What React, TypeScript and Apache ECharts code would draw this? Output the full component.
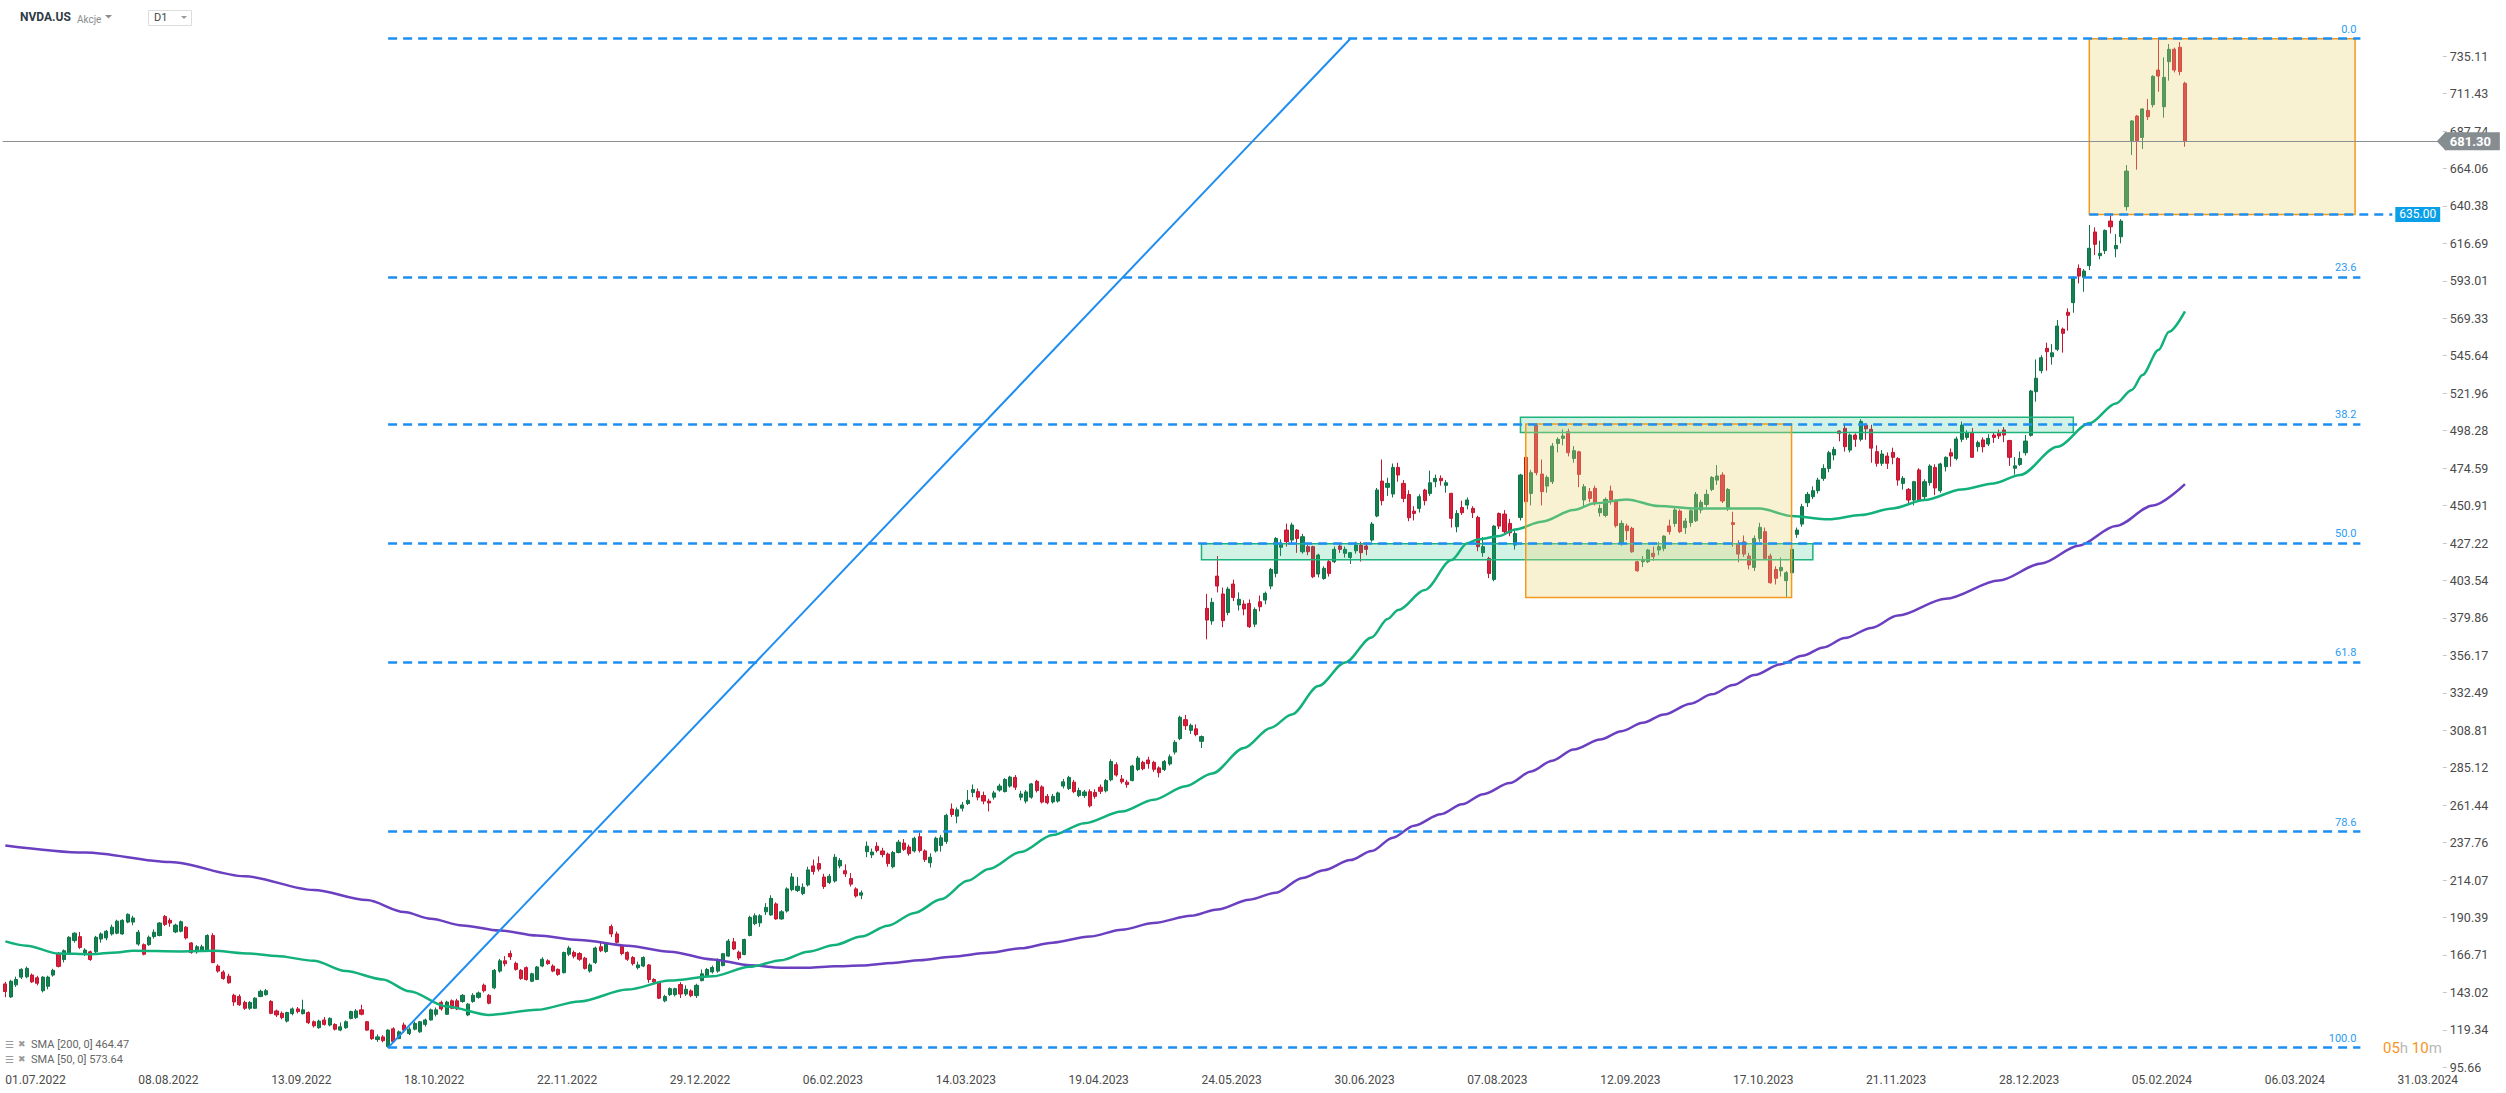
import React, { useEffect, useRef } from "react";
import * as echarts from "echarts";

// ---------- DATA ----------
const usHolidays = [
  "2022-07-04", "2022-09-05", "2022-11-24", "2022-12-26",
  "2023-01-02", "2023-01-16", "2023-02-20", "2023-04-07", "2023-05-29", "2023-06-19",
  "2023-07-04", "2023-09-04", "2023-11-23", "2023-12-25",
  "2024-01-01", "2024-01-15", "2024-02-19",
];
const futureDays = 48;

const xTickLabels = [
  "01.07.2022", "08.08.2022", "13.09.2022", "18.10.2022", "22.11.2022", "29.12.2022",
  "06.02.2023", "14.03.2023", "19.04.2023", "24.05.2023", "30.06.2023", "07.08.2023",
  "12.09.2023", "17.10.2023", "21.11.2023", "28.12.2023", "05.02.2024", "06.03.2024", "31.03.2024",
];

const yTickValues = [
  95.66, 119.34, 143.02, 166.71, 190.39, 214.07, 237.76, 261.44, 285.12, 308.81, 332.49,
  356.17, 379.86, 403.54, 427.22, 450.91, 474.59, 498.28, 521.96, 545.64, 569.33, 593.01,
  616.69, 640.38, 664.06, 687.74, 711.43, 735.11,
];

// [open, close, low, high]
const ohlc2022 = [
  [148.4,143.6,140.0,149.7],[140.2,150.1,139.5,151.0],[147.8,151.2,146.5,153.0],[152.7,157.6,151.5,158.3],
  [152.9,158.2,152.0,159.4],[154.0,149.7,149.0,155.0],[152.3,148.8,147.5,153.5],[144.1,152.7,143.0,153.3],
  [146.9,152.7,145.0,153.6],[154.0,157.0,153.0,158.0],[167.6,159.5,158.8,168.6],[163.8,169.4,162.0,170.2],
  [167.9,177.9,167.0,178.6],[175.8,180.5,174.5,181.0],[178.3,171.5,170.5,181.2],[167.2,169.8,166.0,171.0],
  [168.7,163.8,163.0,169.5],[168.7,177.9,167.5,178.8],[176.8,180.0,174.5,181.0],[177.5,181.7,176.0,182.5],
  [180.0,184.3,179.0,185.9],[180.5,188.1,179.8,189.0],[180.0,188.6,179.5,189.3],[187.5,192.4,186.8,193.0],
  [187.5,190.1,185.5,191.5],[173.6,181.1,172.5,182.5],[173.2,167.2,166.5,174.0],[173.2,177.9,172.5,179.0],
  [178.3,181.1,177.0,182.9],[179.0,186.9,178.5,187.5],[191.1,186.0,185.0,192.0],[188.6,186.9,184.5,190.0],
  [181.3,185.6,180.5,186.5],[181.7,187.7,181.0,188.5],[184.3,177.5,176.5,185.0],[174.3,168.3,167.5,174.8],
  [168.7,171.9,167.5,173.0],[169.4,171.9,168.5,173.2],[169.4,179.0,168.8,179.8],[179.0,161.9,161.5,180.5],
  [159.7,156.5,155.5,160.8],[155.9,151.8,151.0,157.0],[153.3,149.1,148.5,154.8],
  [141.2,137.0,134.5,142.2],[140.5,135.2,134.5,141.8],[136.7,133.0,132.0,137.8],[133.0,136.7,132.0,137.5],
  [133.0,139.4,132.5,140.0],[140.5,143.7,140.0,144.8],[141.6,144.1,141.0,145.2],[137.3,129.8,129.2,138.2],
  [131.3,128.8,127.5,132.2],[129.8,127.1,126.0,131.0],[124.9,130.3,124.0,130.8],[129.6,132.6,128.5,133.5],
  [132.6,130.9,129.8,133.8],[129.6,132.0,129.0,138.4],[130.3,123.9,123.0,131.0],[124.5,121.9,120.8,125.3],
  [120.7,124.9,120.0,125.8],[125.6,122.8,122.0,127.5],[122.4,126.6,121.5,127.3],[122.8,119.8,118.9,123.5],
  [119.2,121.3,118.5,124.0],
  [120.7,124.5,120.0,125.3],[126.6,130.9,126.0,131.5],[127.1,131.3,126.3,132.5],[132.0,129.2,128.5,135.2],
  [124.5,119.2,118.7,125.0],[119.2,113.8,113.0,119.6],[113.2,114.9,111.8,116.5],[114.9,112.5,111.5,116.0],
  [108.8,119.2,108.13,119.7],[120.0,112.0,111.5,121.0],[113.8,118.1,113.5,119.0],[122.4,119.2,117.5,124.0],
  [117.0,119.8,116.0,121.0],[119.8,123.4,119.0,124.6],[118.1,124.5,117.5,125.0],[122.8,125.6,121.5,126.5],
  [125.6,132.0,125.2,132.8],[129.2,132.0,127.8,133.5],[136.7,132.6,131.5,137.8],[129.2,136.9,128.8,137.8],
  [137.7,133.0,132.5,138.6],
  [137.7,132.6,131.8,139.0],[137.3,141.2,136.5,142.0],[128.8,135.6,128.0,136.4],[137.3,141.2,136.5,142.5],
  [139.9,142.7,139.0,143.6],[147.6,144.1,143.0,148.6],[141.2,136.2,135.5,142.0],[145.9,157.0,145.0,157.8],
  [156.5,163.0,155.5,164.2],[163.0,161.2,159.5,166.0],[167.6,165.5,163.5,169.5],[161.4,157.6,156.8,162.5],
  [157.0,151.8,151.0,157.8],[158.7,151.2,150.5,159.5],[150.1,154.8,149.5,155.5],[151.2,159.1,150.8,159.8],
  [159.7,164.0,159.0,165.3],[163.0,161.2,160.5,164.0],[159.7,156.5,155.8,160.8],[157.6,154.4,153.5,158.2],
  [155.5,168.3,155.0,168.8],
  [167.2,171.1,166.0,172.5],[168.3,165.9,164.5,169.5],[167.6,164.0,163.0,168.5],[164.7,158.2,157.5,165.5],
  [156.5,160.4,155.5,161.5],[161.9,171.1,161.0,172.0],[171.9,169.4,168.5,174.8],[168.9,174.1,168.0,174.8],
  [184.7,180.0,178.0,186.0],[180.0,174.7,174.0,181.5],[172.6,167.6,166.5,173.5],[168.3,164.0,163.0,169.0],
  [165.1,161.2,160.0,166.0],[158.7,160.4,157.5,162.5],[159.7,165.1,159.0,165.8],[160.4,151.2,149.1,161.0],
  [151.2,149.7,148.5,152.0],[149.1,139.4,138.8,149.5],[137.7,140.5,136.8,141.5],[141.6,145.4,140.8,146.2],
  [141.6,145.4,140.5,146.0],
];

const ohlc2023a = [
  [148.0,142.0,139.5,149.5],[142.0,145.0,140.8,147.5],[144.0,141.0,140.0,145.0],[141.0,147.5,139.5,148.5],
  [150.5,154.8,150.0,157.5],[153.5,157.5,152.5,158.5],[156.0,158.8,155.0,160.0],[156.5,163.8,155.5,164.5],
  [160.0,167.5,159.5,168.0],[166.0,175.5,165.5,176.8],[175.0,170.5,169.8,177.5],[168.5,164.8,163.5,169.5],
  [167.0,176.5,166.5,177.0],[179.0,190.5,178.5,191.5],[186.5,191.5,185.5,193.0],[187.0,191.5,184.5,192.5],
  [194.0,196.8,192.0,199.5],[192.0,202.5,191.5,204.5],[199.0,189.5,189.0,200.0],[189.5,194.0,189.0,195.0],
  [194.5,208.5,193.5,209.5],[208.0,216.0,207.0,218.5],[207.5,210.2,206.5,216.0],[205.5,209.5,204.5,212.0],
  [211.0,220.5,210.0,222.5],[223.0,219.5,217.5,227.0],[224.5,221.0,219.5,229.0],[216.0,210.0,208.5,218.0],
  [212.5,216.5,211.5,218.0],[213.5,228.5,212.5,230.5],[223.0,226.5,221.5,228.0],[220.0,218.0,216.0,224.0],
  [215.0,211.5,210.0,218.5],[208.5,204.0,203.0,209.5],[204.5,206.0,202.0,207.5],[232.0,235.5,228.5,238.5],
  [230.0,231.8,228.0,234.0],[235.5,232.8,231.5,238.0],[232.5,230.2,228.5,234.5],
  [230.5,224.5,222.5,231.5],[222.5,231.5,221.5,232.5],[231.5,238.0,231.0,239.5],[237.5,233.5,232.5,240.0],
  [235.0,230.8,229.5,236.5],[232.5,240.5,231.5,241.5],[241.5,232.8,231.5,244.0],[232.5,227.0,225.5,233.5],
  [225.0,228.5,222.0,231.0],[232.5,240.5,231.5,241.5],[236.0,240.8,232.0,242.5],[238.5,255.0,237.0,256.0],
  [259.0,255.5,254.0,262.5],[254.5,258.5,250.0,260.0],[259.5,261.5,257.5,263.5],[262.5,264.5,261.5,271.0],
  [269.5,271.3,266.5,274.5],[270.0,266.5,264.5,272.0],[267.5,264.0,262.0,270.0],[264.0,262.8,257.5,265.5],
  [266.5,269.2,265.0,270.5],[271.0,273.5,270.0,275.0],[270.0,277.7,269.5,278.5],
  [273.5,279.2,272.5,280.0],[279.0,272.8,271.0,280.5],[266.5,268.5,264.5,270.5],[264.0,269.8,262.5,271.0],
  [266.5,274.9,265.5,275.5],[276.5,270.7,269.5,277.5],[273.0,263.4,262.5,274.0],[267.0,263.0,262.0,268.5],
  [263.5,267.0,262.5,268.5],[264.0,269.2,263.0,270.0],[273.5,276.2,272.0,278.0],[272.0,279.0,271.0,280.0],
  [276.0,270.0,269.0,277.5],[267.5,270.7,266.5,272.5],[267.5,269.8,266.0,271.0],[270.0,261.0,260.0,271.5],
  [269.5,267.0,265.5,271.5],[272.8,270.2,268.5,274.5],[270.5,277.0,269.5,278.0],
  [277.5,289.0,276.5,290.5],[287.0,280.5,279.5,288.5],[278.0,276.2,275.0,280.5],[276.0,274.5,272.5,277.5],
  [277.0,286.2,276.5,287.0],[284.0,291.2,283.0,292.5],[288.5,284.5,283.5,289.5],[290.0,287.7,284.5,292.0],
  [288.5,284.1,282.5,289.5],[285.0,282.0,279.0,286.0],[284.0,289.0,283.0,290.0],[287.5,292.0,286.5,293.5],
  [295.0,301.2,293.5,302.5],[303.5,317.0,302.5,318.0],[315.5,311.7,309.0,318.5],[308.8,311.9,306.5,313.0],
  [309.7,306.1,305.0,312.5],[301.8,304.8,297.6,305.5],
];

const ohlc2023b = [
  [385.9,378.5,366.3,395.0],[377.9,389.7,375.5,392.5],[406.3,400.0,396.0,419.0],[395.0,378.1,374.0,399.0],
  [383.3,398.1,381.5,399.5],[401.3,392.8,390.5,404.0],[388.0,391.6,384.5,396.0],[388.6,385.5,381.5,391.0],
  [389.0,374.3,373.5,391.5],[375.9,385.2,374.0,386.5],[390.1,386.9,384.0,394.0],[391.1,395.4,388.5,396.5],
  [400.0,410.5,398.0,411.5],[408.0,430.1,405.5,431.0],[424.5,427.0,419.0,429.5],[435.4,428.0,425.0,439.5],
  [429.1,438.6,426.5,440.0],[435.4,430.1,421.0,436.0],[421.7,431.2,420.5,433.0],[424.9,421.7,419.5,426.0],
  [424.9,405.9,405.0,425.5],[407.6,419.6,405.5,420.5],[404.8,411.2,404.0,412.5],[415.4,408.0,406.0,416.5],
  [415.4,423.2,414.5,425.0],
  [425.3,423.2,421.0,426.5],[420.7,423.2,418.0,425.0],[418.1,421.1,414.0,421.5],[422.3,425.9,420.5,428.0],
  [425.9,421.1,415.5,428.0],[425.3,423.2,419.5,427.5],[429.1,439.2,428.0,440.5],[444.3,460.7,443.5,462.0],
  [466.4,454.0,451.0,480.0],[462.4,464.9,457.0,468.5],[458.2,475.0,456.0,477.5],[475.0,470.2,466.0,478.0],
  [464.9,455.4,453.0,467.0],[457.9,443.2,441.0,460.5],[447.4,445.9,441.5,450.5],[449.1,456.5,446.5,458.0],
  [460.7,454.0,451.0,461.5],[458.6,465.3,457.0,473.0],[466.0,468.1,462.5,470.5],[468.1,466.6,463.5,470.0],
  [463.7,465.3,459.0,467.0],[458.6,442.8,437.0,459.0],[437.5,445.9,434.0,448.0],[449.7,446.4,445.0,454.0],
  [451.2,454.4,448.5,456.0],[449.1,446.4,443.0,450.5],[443.4,424.9,422.0,444.5],[421.1,424.9,418.5,431.0],
  [417.5,408.0,405.0,418.5],[404.2,437.9,403.0,438.5],[445.9,437.9,436.0,446.5],[445.5,434.4,433.0,448.0],
  [439.6,433.7,431.5,442.5],[425.9,433.3,423.0,436.0],[443.4,470.2,441.5,471.0],[481.4,453.3,450.5,481.8],
  [458.6,471.7,451.0,473.5],[501.8,471.7,470.0,502.7],[470.8,459.7,451.0,480.0],[463.2,468.7,459.0,470.0],
  [466.0,488.5,464.5,490.5],[490.2,492.8,484.5,494.0],[493.4,494.9,489.0,499.0],
  [497.6,484.3,482.0,499.5],[480.7,485.6,478.0,488.5],[484.9,470.6,462.5,485.5],[454.4,462.8,450.0,464.5],
  [459.7,455.4,453.0,462.0],[461.8,452.7,451.0,463.5],[446.4,449.1,444.0,451.5],[444.7,454.8,443.5,456.0],
  [460.1,454.4,451.5,463.5],[453.8,438.2,437.0,455.0],[427.0,439.6,425.5,441.5],[438.0,435.0,429.0,439.5],
  [436.5,421.7,421.0,437.5],[415.4,409.7,409.0,416.0],[415.4,416.9,412.0,419.0],[415.4,422.8,414.5,423.5],
  [420.7,418.6,416.0,425.0],[422.8,424.9,419.5,428.0],[423.8,431.6,422.0,432.0],[438.0,434.4,432.5,442.0],
  [439.6,448.1,437.5,450.0],[447.4,434.4,433.5,448.5],[436.9,441.1,433.0,443.0],[440.1,447.6,437.5,448.5],
  [441.3,458.0,440.5,459.5],[448.1,452.9,446.0,454.5],[451.6,458.0,450.0,461.0],[461.1,468.7,460.0,469.5],
  [467.0,469.6,464.0,476.5],[470.2,453.8,452.5,472.0],[449.1,461.1,447.5,462.0],[440.1,439.0,424.9,447.0],
  [427.0,420.2,415.0,429.0],[428.0,420.2,418.5,432.0],[419.0,413.3,410.5,421.0],[411.8,430.1,409.5,432.0],
  [430.1,437.1,428.0,440.0],[434.4,417.5,416.5,437.0],[419.0,402.1,401.5,420.5],[410.5,404.9,401.0,412.5],
  [409.7,411.8,406.0,418.0],[403.4,408.4,392.8,409.5],
  [408.4,423.2,405.5,424.0],[432.7,435.4,430.5,437.0],[439.2,450.2,437.5,452.0],[452.7,458.0,450.0,459.5],
  [456.5,460.3,455.0,463.0],[460.3,467.0,458.5,468.5],[468.1,474.4,466.5,477.0],[474.4,484.3,472.0,485.5],
  [482.9,486.4,479.5,488.0],[498.0,496.6,491.5,498.5],[499.7,488.1,485.0,502.0],[486.0,495.5,484.5,496.5],
  [495.5,492.8,488.0,496.5],[492.8,504.1,491.5,505.5],[501.8,499.4,492.5,503.0],[499.1,487.2,478.0,502.0],
  [485.0,477.6,475.5,489.0],[477.6,483.5,476.0,486.0],[482.2,477.6,474.0,484.5],[484.5,481.4,477.0,487.5],
  [480.7,467.0,463.5,481.5],
  [464.9,468.1,461.0,469.5],[461.1,454.4,451.5,462.0],[454.4,466.0,451.0,466.5],[473.4,454.4,453.5,474.5],
  [456.5,466.0,455.0,467.5],[465.4,475.9,463.5,477.0],[475.0,462.0,457.5,477.0],[460.3,477.2,459.0,478.0],
  [475.5,481.4,472.5,482.0],[484.3,482.2,475.5,487.0],[480.7,493.0,479.5,494.5],[492.8,501.8,491.0,504.0],
  [494.0,497.0,492.5,498.5],[497.0,481.4,481.0,500.0],[488.1,490.7,485.0,492.0],[492.4,488.1,484.5,494.0],
  [489.8,493.4,488.5,496.0],[495.5,494.0,490.5,497.0],[497.0,494.9,493.0,499.0],[498.7,495.5,491.0,500.5],
];

const ohlc2024 = [
  [492.0,481.4,476.0,492.5],[474.5,476.0,470.5,481.5],[476.9,480.7,476.0,485.0],[484.3,491.7,482.5,495.5],
  [495.3,523.3,494.5,524.0],[522.9,531.4,516.6,543.3],[536.2,544.4,534.5,546.0],[550.3,548.2,536.2,553.9],
  [545.0,547.5,540.0,553.0],[549.7,564.4,548.5,568.2],[562.5,559.8,547.6,563.5],[573.1,571.2,561.5,575.6],
  [579.2,595.0,572.8,596.0],[600.9,596.0,591.4,603.4],[595.2,599.2,586.1,600.5],[602.6,613.6,599.8,628.3],
  [623.9,616.1,609.3,626.8],[608.9,610.4,606.6,618.4],[612.1,624.9,610.0,625.5],[630.8,627.2,623.0,635.7],
  [613.3,615.4,607.9,622.6],
  [620.9,630.8,616.7,632.0],[639.9,662.4,637.4,666.2],[681.6,694.1,672.6,694.7],[697.2,681.6,663.3,697.9],
  [683.7,701.7,676.4,702.2],[700.8,696.8,694.7,708.0],[704.4,722.3,702.7,723.0],[726.3,722.5,712.6,746.11],
  [703.1,721.7,696.2,734.3],[731.6,739.4,719.6,742.8],[739.4,726.3,724.8,740.5],[740.7,725.3,723.0,744.0],
  [717.9,681.3,677.8,718.9],
];

// SMA readings [bar index, value]
const sma200Points = [
  [0,236.0],[15,231.5],[31,225.5],[45,216.5],[58,207.8],[68,201.4],[75,193.9],[80,189.6],[86,185.4],
  [93,182.2],[100,179.0],[108,176.2],[117,172.6],[125,168.8],[133,163.9],[140,160.2],[146,158.7],
  [151,158.7],[156,159.6],[161,160.0],[167,161.7],[172,163.4],[178,165.6],[185,168.1],[191,170.9],
  [197,174.5],[204,178.4],[210,182.7],[216,186.9],[223,191.5],[228,195.5],[234,201.7],[239,206.1],
  [244,215.4],[248,220.3],[253,226.7],[257,232.4],[261,240.9],[265,248.5],[270,255.7],[274,262.0],
  [278,268.4],[283,275.4],[287,282.8],[291,289.6],[295,296.6],[300,302.9],[304,308.2],[308,313.5],
  [312,318.8],[317,325.6],[321,331.5],[325,337.4],[329,343.8],[334,350.6],[338,355.9],[342,361.2],
  [346,367.1],[351,373.5],[356,381.3],[365,392.0],[375,403.5],[383,414.3],[390,425.5],[397,438.0],
  [404,451.0],[410,464.47],
];
const sma50Points = [
  [0,175.3],[4,172.6],[10,167.6],[16,167.2],[21,168.3],[24,169.4],[33,168.9],[39,169.4],[46,167.6],
  [51,166.1],[58,163.0],[64,156.5],[71,151.2],[76,143.7],[83,134.1],[91,128.8],[100,132.0],[108,137.3],
  [117,144.8],[125,150.5],[133,153.2],[140,159.2],[146,163.4],[151,168.8],[156,173.0],[161,178.4],
  [166,185.2],[171,193.3],[176,201.9],[181,213.6],[185,221.1],[191,231.8],[197,242.5],[203,250.0],
  [210,257.4],[216,264.9],[222,273.4],[227,281.5],[233,297.6],[238,310.3],[242,318.8],[247,336.8],
  [252,351.6],[257,367.5],[260,379.2],[262,384.8],[267,397.5],[272,416.4],[275,427.0],[277,429.5],
  [281,431.6],[284,435.8],[289,440.7],[295,448.1],[299,452.3],[305,454.8],[311,450.6],[318,449.1],
  [324,449.1],[330,449.1],[336,444.3],[343,442.2],[349,444.9],[355,449.1],[361,454.4],[368,461.1],
  [374,464.9],[379,470.2],[386,488.1],[392,502.9],[397,515.5],[400,524.0],[402,533.4],[405,549.2],
  [407,560.8],[410,573.64],
];

const swingLowIdx = 72;
const swingLow = 108.13;
const swingHighIdx = 253;
const swingHigh = 746.11;
const fibEndIdx = 443;
const fibLabels = ["0.0", "23.6", "38.2", "50.0", "61.8", "78.6", "100.0"];
const fibValues = [746.11, 595.55, 502.4, 427.12, 351.85, 244.68, 108.13];

const lastPrice = 681.3;
const levelPrice = 635.0;
const levelStartIdx = 392;
const levelEndIdx = 449;

// rectangles: [startIdx, endIdx, top, bottom, kind] kind 0 = zone (green), 1 = box (yellow)
const zoneRects = [
  [225, 340, 426.8, 416.7, 0],
  [285, 389, 506.7, 497.1, 0],
  [286, 336, 502.4, 392.8, 1],
  [392, 442, 746.11, 635.0, 1],
];

// ---------- HELPERS ----------
function fmtDate(d: Date) {
  const dd = String(d.getUTCDate()).padStart(2, "0");
  const mm = String(d.getUTCMonth() + 1).padStart(2, "0");
  return `${dd}.${mm}.${d.getUTCFullYear()}`;
}
function buildCategories(count: number): string[] {
  const out: string[] = [];
  const d = new Date(Date.UTC(2022, 6, 1));
  while (out.length < count) {
    const w = d.getUTCDay();
    const iso = d.toISOString().slice(0, 10);
    if (w !== 0 && w !== 6 && !usHolidays.includes(iso)) out.push(fmtDate(d));
    d.setUTCDate(d.getUTCDate() + 1);
  }
  for (let k = 0; k < futureDays; k++) {
    out.push(fmtDate(d));
    d.setUTCDate(d.getUTCDate() + 1);
  }
  return out;
}

export default function App() {
  const ref = useRef<HTMLDivElement>(null);
  useEffect(() => {
    if (!ref.current) return;
    const chart = echarts.init(ref.current, undefined, { renderer: "svg" });
    const ohlc = [...ohlc2022, ...ohlc2023a, ...ohlc2023b, ...ohlc2024];
    const categories = buildCategories(ohlc.length);

    const rectStyles = [
      { fill: "rgba(35,190,130,0.2)", stroke: "#1cb37d" },
      { fill: "rgba(232,214,118,0.32)", stroke: "#f39a1e" },
    ];

    const fibData: any[] = fibValues.map((v, i) => [
      { name: fibLabels[i], coord: [swingLowIdx, v] },
      { coord: [fibEndIdx, v] },
    ]);
    fibData.push([
      {
        name: "635.00",
        coord: [levelStartIdx, levelPrice],
        label: {
          show: true,
          position: "end",
          formatter: levelPrice.toFixed(2),
          backgroundColor: "#0a9fe6",
          color: "#ffffff",
          fontSize: 12,
          padding: [2, 4, 1, 4],
          distance: 3,
        },
      },
      { coord: [levelEndIdx, levelPrice] },
    ]);

    const option: any = {
      animation: false,
      textStyle: { fontFamily: "Roboto, 'Noto Sans', sans-serif" },
      grid: { left: 2.7, right: 63.2, top: 0, bottom: 21, containLabel: false },
      xAxis: {
        type: "category",
        data: categories,
        boundaryGap: true,
        axisLine: { show: false },
        axisTick: { show: false },
        splitLine: { show: false },
        axisLabel: {
          interval: (_i: number, v: string) => xTickLabels.includes(v),
          align: "left",
          margin: 2,
          color: "#4a4a4a",
          fontSize: 12,
          hideOverlap: false,
        },
      },
      yAxis: {
        type: "value",
        position: "right",
        min: 92.7,
        max: 770.6,
        splitLine: { show: false },
        axisLine: { show: false },
        axisTick: { show: true, customValues: yTickValues, length: 4, lineStyle: { color: "#c8c8c8" } },
        axisLabel: {
          customValues: yTickValues,
          formatter: (v: number) => v.toFixed(2),
          color: "#4a4a4a",
          fontSize: 12.5,
          margin: 7,
        },
      },
      series: [
        {
          type: "candlestick",
          data: ohlc,
          barWidth: 3.6,
          z: 2,
          silent: true,
          itemStyle: {
            color: "#13804f",
            color0: "#d71e3a",
            borderColor: "#0f7447",
            borderColor0: "#c4142f",
            borderWidth: 1,
          },
          markLine: {
            silent: true,
            symbol: ["none", "none"],
            data: [{ yAxis: lastPrice }],
            lineStyle: { color: "#8a9094", width: 1, type: "solid" },
            label: {
              show: true,
              position: "end",
              formatter: lastPrice.toFixed(2),
              backgroundColor: "#868d91",
              color: "#ffffff",
              fontWeight: "bold",
              fontSize: 13,
              padding: [3, 9, 2, 5],
              distance: 2,
            },
          },
        },
        {
          type: "line",
          data: sma200Points,
          showSymbol: false,
          smooth: 0.3,
          smoothMonotone: "x",
          z: 3,
          silent: true,
          lineStyle: { color: "#6a3fc0", width: 2.5 },
        },
        {
          type: "line",
          data: sma50Points,
          showSymbol: false,
          smooth: 0.3,
          smoothMonotone: "x",
          z: 3,
          silent: true,
          lineStyle: { color: "#12b07c", width: 2.5 },
        },
        {
          type: "custom",
          z: 4,
          silent: true,
          clip: false,
          data: zoneRects,
          renderItem: (_params: any, api: any) => {
            const p1 = api.coord([api.value(0), api.value(2)]);
            const p2 = api.coord([api.value(1), api.value(3)]);
            const st = rectStyles[api.value(4)];
            return {
              type: "rect",
              shape: { x: p1[0], y: p1[1], width: p2[0] - p1[0], height: p2[1] - p1[1] },
              style: { fill: st.fill, stroke: st.stroke, lineWidth: 1.5 },
            };
          },
        },
        {
          type: "line",
          data: [
            [swingLowIdx, swingLow],
            [swingHighIdx, swingHigh],
          ],
          showSymbol: false,
          z: 5,
          silent: true,
          lineStyle: { color: "#1f8ef1", width: 2 },
          markLine: {
            silent: true,
            symbol: ["none", "none"],
            lineStyle: { color: "#1e8ff2", width: 2.5, type: [9, 6] },
            label: {
              show: true,
              position: "insideEndTop",
              formatter: "{b}",
              color: "#2a9bf4",
              fontSize: 11,
              distance: 4,
            },
            data: fibData,
          },
        },
      ],
    };
    chart.setOption(option);

    const py = chart.convertToPixel({ yAxisIndex: 0 }, lastPrice) as number;
    const gridRight = 2506 - 63.2;
    const graphics: any[] = [
      { type: "text", left: 20, top: 11, style: { text: "NVDA.US", fill: "#2f3b45", font: "bold 12px Roboto" } },
      { type: "text", left: 77, top: 14, style: { text: "Akcje", fill: "#8c8c8c", font: "10px Roboto" } },
      { type: "polygon", shape: { points: [[105, 15], [112, 15], [108.5, 18.5]] }, style: { fill: "#8c8c8c" } },
      { type: "rect", shape: { x: 148.5, y: 10.5, width: 43, height: 15 }, style: { fill: "#ffffff", stroke: "#dddddd", lineWidth: 1 } },
      { type: "text", left: 154, top: 12, style: { text: "D1", fill: "#444444", font: "11px Roboto" } },
      { type: "polygon", shape: { points: [[181, 16], [187, 16], [184, 19]] }, style: { fill: "#9a9a9a" } },
      { type: "text", left: 5, top: 1039, style: { text: "☰", fill: "#9a9a9a", font: "10px 'DejaVu Sans'" } },
      { type: "text", left: 18, top: 1039, style: { text: "✖", fill: "#9a9a9a", font: "9px 'DejaVu Sans'" } },
      { type: "text", left: 31, top: 1039, style: { text: "SMA [200, 0] 464.47", fill: "#666666", font: "11px Roboto" } },
      { type: "text", left: 5, top: 1054, style: { text: "☰", fill: "#9a9a9a", font: "10px 'DejaVu Sans'" } },
      { type: "text", left: 18, top: 1054, style: { text: "✖", fill: "#9a9a9a", font: "9px 'DejaVu Sans'" } },
      { type: "text", left: 31, top: 1054, style: { text: "SMA [50, 0] 573.64", fill: "#666666", font: "11px Roboto" } },
      {
        type: "text",
        left: 2383,
        top: 1040,
        style: {
          text: "{o|05}{g|h }{o|10}{g|m}",
          rich: {
            o: { fill: "#f7941d", fontSize: 15, fontFamily: "Roboto" },
            g: { fill: "#b8b8b8", fontSize: 15, fontFamily: "Roboto" },
          },
        },
      },
      {
        type: "polygon",
        z: 100,
        shape: { points: [[gridRight - 6, py], [gridRight + 3, py - 9.5], [gridRight + 3, py + 9.5]] },
        style: { fill: "#868d91" },
      },
    ];
    chart.setOption({ graphic: graphics });

    return () => chart.dispose();
  }, []);

  return (
    <div
      ref={ref}
      style={{ position: "fixed", left: 0, top: 0, width: 2506, height: 1093, background: "#ffffff" }}
    />
  );
}
